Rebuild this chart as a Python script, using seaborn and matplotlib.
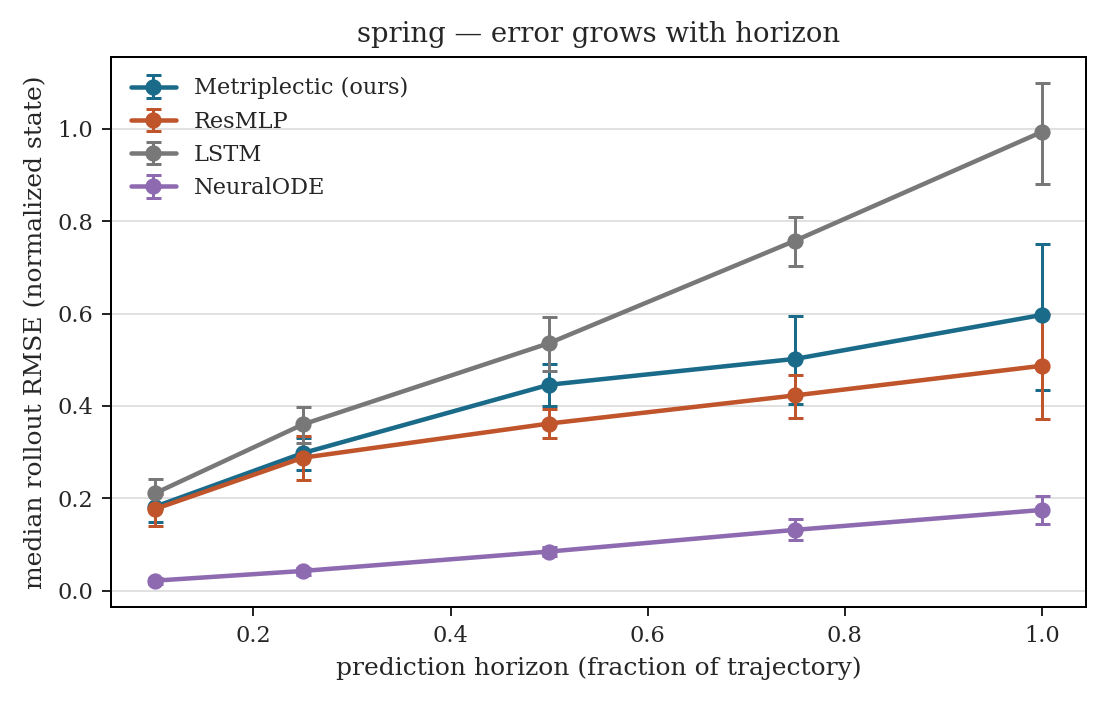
import numpy as np
import matplotlib
matplotlib.use("Agg")
import matplotlib.pyplot as plt
import seaborn as sns

horizon = [0.1, 0.25, 0.5, 0.75, 1.0]

models = ["Metriplectic (ours)", "ResMLP", "LSTM", "NeuralODE"]
colors = ["#1a6b8a", "#c0542b", "#787878", "#8e6bb0"]

median = {
    "Metriplectic (ours)": [0.182, 0.298, 0.446, 0.502, 0.597],
    "ResMLP": [0.177, 0.288, 0.362, 0.423, 0.487],
    "LSTM": [0.211, 0.360, 0.536, 0.758, 0.993],
    "NeuralODE": [0.022, 0.043, 0.085, 0.132, 0.175],
}
lower = {
    "Metriplectic (ours)": [0.150, 0.262, 0.400, 0.405, 0.435],
    "ResMLP": [0.140, 0.240, 0.330, 0.375, 0.372],
    "LSTM": [0.180, 0.320, 0.475, 0.703, 0.880],
    "NeuralODE": [0.015, 0.035, 0.075, 0.110, 0.145],
}
upper = {
    "Metriplectic (ours)": [0.215, 0.330, 0.490, 0.595, 0.750],
    "ResMLP": [0.210, 0.335, 0.393, 0.468, 0.600],
    "LSTM": [0.242, 0.398, 0.592, 0.808, 1.100],
    "NeuralODE": [0.028, 0.050, 0.095, 0.155, 0.205],
}

sns.set_style("ticks")
plt.rcParams["font.family"] = ["DejaVu Serif"]

fig, ax = plt.subplots(figsize=(1106 / 180, 705 / 180), dpi=180)
for m, c in zip(models, colors):
    y = np.array(median[m])
    yerr = [y - np.array(lower[m]), np.array(upper[m]) - y]
    ax.errorbar(horizon, y, yerr=yerr, color=c, marker="o", markersize=5.5,
                linewidth=1.8, capsize=3, elinewidth=1.2, capthick=1.2, label=m)

ax.set_title("spring — error grows with horizon", fontsize=11)
ax.set_xlabel("prediction horizon (fraction of trajectory)", fontsize=10)
ax.set_ylabel("median rollout RMSE (normalized state)", fontsize=10)
ax.tick_params(labelsize=9)
ax.set_xticks([0.2, 0.4, 0.6, 0.8, 1.0])
ax.set_yticks([0.0, 0.2, 0.4, 0.6, 0.8, 1.0])
ax.set_xlim(0.055, 1.045)
ax.set_ylim(-0.035, 1.155)
ax.grid(axis="y", color="#dddddd", linewidth=0.7)
ax.set_axisbelow(True)
for s in ax.spines.values():
    s.set_color("black")
    s.set_linewidth(0.8)
ax.legend(loc="upper left", frameon=False, fontsize=9)
fig.subplots_adjust(left=0.100, right=0.982, top=0.919, bottom=0.139)
plt.savefig("out.png")
